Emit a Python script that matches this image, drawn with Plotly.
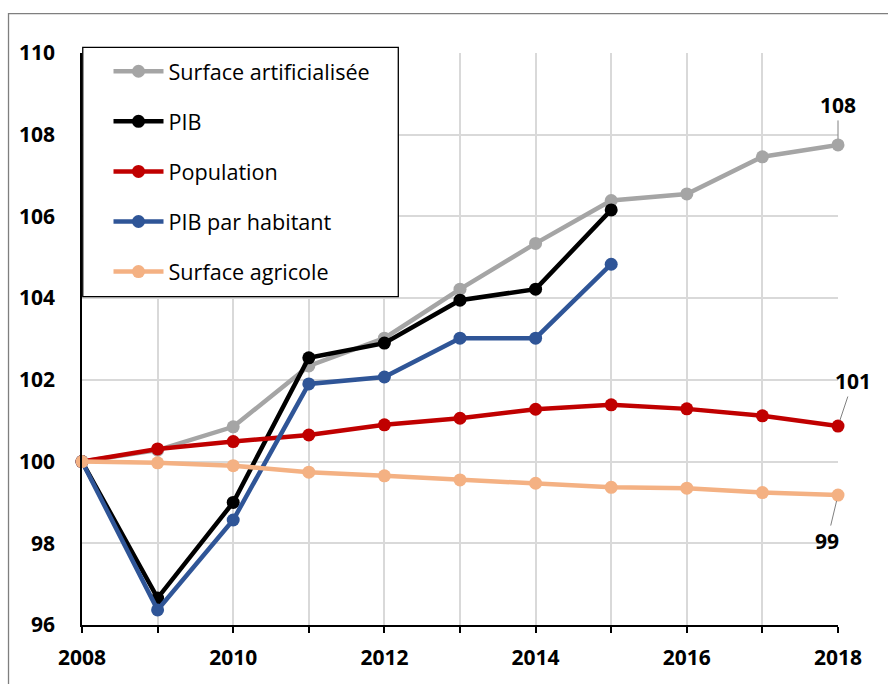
import plotly.graph_objects as go

years = list(range(2008, 2019))
surface_artif = [100, 100.28, 100.85, 102.34, 103.02, 104.22, 105.34, 106.39, 106.55, 107.46, 107.75]
pib = [100, 96.66, 99.0, 102.54, 102.9, 103.95, 104.22, 106.16]
population = [100, 100.31, 100.49, 100.65, 100.9, 101.06, 101.28, 101.39, 101.29, 101.12, 100.87]
pib_hab = [100, 96.37, 98.57, 101.9, 102.07, 103.02, 103.02, 104.83]
surface_agri = [100, 99.97, 99.9, 99.74, 99.65, 99.55, 99.47, 99.37, 99.35, 99.24, 99.18]

series = [
    ("Surface artificialisée", surface_artif, "#A5A5A5"),
    ("PIB", pib, "#000000"),
    ("Population", population, "#C00000"),
    ("PIB par habitant", pib_hab, "#2F5597"),
    ("Surface agricole", surface_agri, "#F4B183"),
]

x_tickvals = years
x_ticktext = [str(y) if y % 2 == 0 else "" for y in years]
y_tickvals = [96, 98, 100, 102, 104, 106, 108, 110]

FONT = "Open Sans"

fig = go.Figure()
for i, (name, vals, color) in enumerate(series):
    fig.add_trace(go.Scatter(
        x=years[:len(vals)], y=vals, name=name, mode="lines+markers",
        line=dict(color=color, width=4.5),
        marker=dict(color=color, size=13),
        cliponaxis=False, legendgroup=f"g{i}",
    ))

labels = [
    (2018, surface_artif[-1], "108", 0, -40),
    (2018, population[-1], "101", 15, -45),
    (2018, surface_agri[-1], "99", -11, 46),
]
for x, y, t, ax, ay in labels:
    fig.add_annotation(x=x, y=y, text=f"<b>{t}</b>", showarrow=True, ax=ax, ay=ay,
                       arrowhead=0, arrowwidth=1, arrowcolor="#808080", standoff=6,
                       font=dict(family=FONT, size=21, color="#000000"))

# outer frame
fig.add_shape(type="rect", xref="paper", yref="paper",
              x0=-0.0972, x1=1.3, y0=-0.3, y1=1.069,
              line=dict(color="#7F7F7F", width=1.3), fillcolor="rgba(0,0,0,0)", layer="below")
# legend box
fig.add_shape(type="rect", xref="paper", yref="paper",
              x0=0.001, x1=(398.3 - 82) / 756, y0=(625 - 296.7) / 572, y1=(625 - 47.3) / 572,
              line=dict(color="#000000", width=1.3), fillcolor="white", layer="above")

fig.update_layout(
    width=888, height=684,
    margin=dict(l=82, r=50, t=53, b=59),
    paper_bgcolor="white", plot_bgcolor="white",
    font=dict(family=FONT, size=21, color="#000000"),
    showlegend=True,
    legend=dict(x=(108.5 - 82) / 756, y=1.004, xanchor="left", yanchor="top",
                bgcolor="rgba(0,0,0,0)", borderwidth=0,
                font=dict(family=FONT, size=21.6, color="#000000"),
                tracegroupgap=19, itemwidth=50, traceorder="grouped"),
    xaxis=dict(range=[2008, 2018], tickmode="array", tickvals=x_tickvals, ticktext=x_ticktext,
               showgrid=True, gridcolor="#D9D9D9", gridwidth=1.5,
               showline=True, linecolor="#000000", linewidth=1.5,
               ticks="outside", ticklen=6, tickcolor="#000000", tickwidth=1.5,
               tickfont=dict(family=FONT, size=21, color="#000000", weight="bold"),
               zeroline=False, ticklabelstandoff=7),
    yaxis=dict(range=[96, 110], tickmode="array", tickvals=y_tickvals,
               showgrid=True, gridcolor="#D9D9D9", gridwidth=1.5,
               showline=True, linecolor="#000000", linewidth=1.5,
               ticks="", tickfont=dict(family=FONT, size=21, color="#000000", weight="bold"),
               zeroline=False, ticklabelstandoff=21),
)

fig.write_html("out.html")
